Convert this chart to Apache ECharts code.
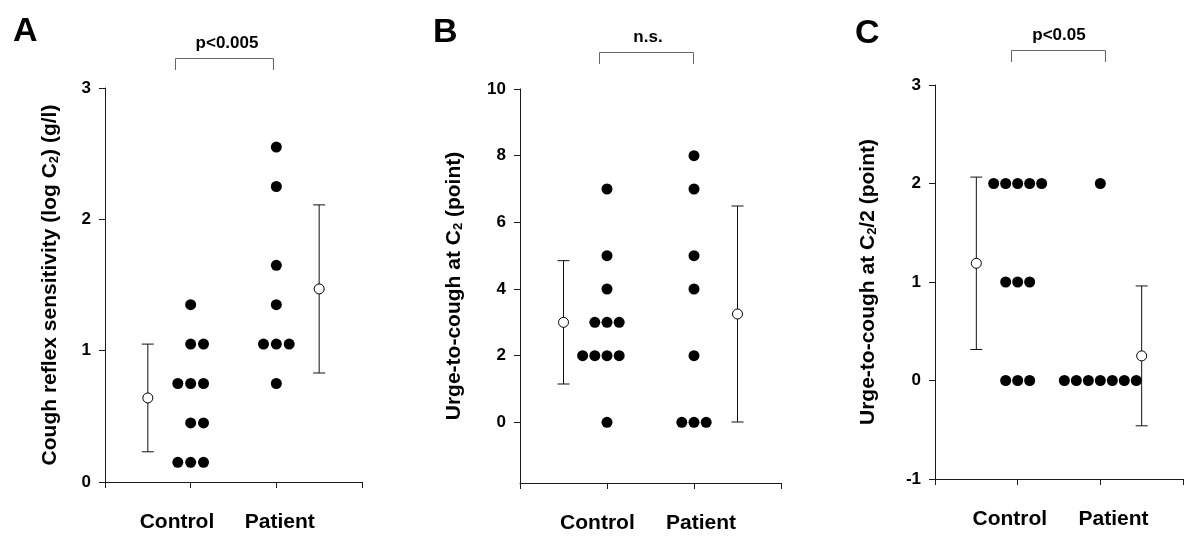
<!DOCTYPE html>
<html>
<head>
<meta charset="utf-8">
<script src="https://cdn.jsdelivr.net/npm/echarts@6/dist/echarts.min.js"></script>
<style>
html,body{margin:0;padding:0;background:#fff;}
#chart{width:1200px;height:550px;}
</style>
</head>
<body>
<div id="chart"></div>
<script>
// ---- data ----
const categories = ['Control', 'Patient'];
const panelLetters = ['A', 'B', 'C'];
const pLabels = ['p<0.005', 'n.s.', 'p<0.05'];

// [column slot, value]
const aControl = [[0,1.35],[0,1.05],[1,1.05],[-1,0.75],[0,0.75],[1,0.75],[0,0.45],[1,0.45],[-1,0.15],[0,0.15],[1,0.15]];
const aPatient = [[0,2.55],[0,2.25],[0,1.65],[0,1.35],[-1,1.05],[0,1.05],[1,1.05],[0,0.75]];
const aMean = [0.64, 1.47];
const aSD = [0.41, 0.64];

const bControl = [[0,7],[0,5],[0,4],[-1,3],[0,3],[1,3],[-2,2],[-1,2],[0,2],[1,2],[0,0]];
const bPatient = [[0,8],[0,7],[0,5],[0,4],[0,2],[-1,0],[0,0],[1,0]];
const bMean = [3.0, 3.25];
const bSD = [1.85, 3.24];

const cControl = [[-2,2],[-1,2],[0,2],[1,2],[2,2],[-1,1],[0,1],[1,1],[-1,0],[0,0],[1,0]];
const cPatient = [[0,2],[-3,0],[-2,0],[-1,0],[0,0],[1,0],[2,0],[3,0]];
const cMean = [1.19, 0.25];
const cSD = [0.875, 0.71];

const aYTicks = [0, 1, 2, 3];
const bYTicks = [0, 2, 4, 6, 8, 10];
const cYTicks = [-1, 0, 1, 2, 3];

// ---- layout ----
const FONT = '"Liberation Sans", Arial, Helvetica, sans-serif';
const AXIS_COLOR = '#1a1a1a';
const panels = [
  { grid: {left: 105, top: 88, width: 257, height: 394}, yMin: 0, yMax: 3, yTicks: aYTicks,
    control: aControl, patient: aPatient, mean: aMean, sd: aSD, step: 0.15,
    labelPos: [0.84, 2.04], nameGap: 44,
    name: 'Cough reflex sensitivity (log C{sub|2}) (g/l)' },
  { grid: {left: 520, top: 89, width: 261, height: 394}, yMin: -1.82, yMax: 10, yTicks: bYTicks,
    control: bControl, patient: bPatient, mean: bMean, sd: bSD, step: 0.14,
    labelPos: [0.89, 2.08], nameGap: 55,
    name: 'Urge-to-cough at C{sub|2} (point)' },
  { grid: {left: 935, top: 85, width: 248, height: 394}, yMin: -1, yMax: 3, yTicks: cYTicks,
    control: cControl, patient: cPatient, mean: cMean, sd: cSD, step: 0.145,
    labelPos: [0.905, 2.16], nameGap: 56,
    name: 'Urge-to-cough at C{sub|2}/2 (point)' }
];

const grids = [], xAxes = [], yAxes = [], series = [];
panels.forEach((p, i) => {
  grids.push(p.grid);
  xAxes.push({
    type: 'value', gridIndex: i, min: 0, max: 3, interval: 1,
    axisLine: {show: true, onZero: false, lineStyle: {color: AXIS_COLOR, width: 1}},
    axisTick: {show: true, length: 6, customValues: [0, 1, 2, 3], lineStyle: {color: AXIS_COLOR}},
    splitLine: {show: false},
    axisLabel: {
      customValues: p.labelPos, margin: 30,
      fontFamily: FONT, fontWeight: 'bold', fontSize: 21, color: '#000',
      formatter: v => (v < 1.5 ? categories[0] : categories[1])
    }
  });
  yAxes.push({
    type: 'value', gridIndex: i, min: p.yMin, max: p.yMax,
    axisLine: {show: true, onZero: false, lineStyle: {color: AXIS_COLOR, width: 1}},
    axisTick: {show: true, length: 6, customValues: p.yTicks, lineStyle: {color: AXIS_COLOR}},
    splitLine: {show: false},
    axisLabel: {customValues: p.yTicks, margin: 14, fontFamily: FONT, fontWeight: 'bold', fontSize: 17, color: '#000'},
    name: p.name, nameLocation: 'middle', nameRotate: 90, nameGap: p.nameGap,
    nameTextStyle: {
      fontFamily: FONT, fontWeight: 'bold', fontSize: 21, color: '#000',
      rich: {sub: {fontFamily: FONT, fontWeight: 'bold', fontSize: 13, color: '#000', padding: [9, 0, 0, 0]}}
    }
  });
  const toPts = (arr, center) => arr.map(d => [center + d[0] * p.step, d[1]]);
  series.push({
    type: 'scatter', xAxisIndex: i, yAxisIndex: i, symbol: 'circle', symbolSize: 11,
    itemStyle: {color: '#000', opacity: 1}, silent: true,
    data: toPts(p.control, 1).concat(toPts(p.patient, 2))
  });
  const ms = [[0.5, p.mean[0], p.sd[0]], [2.5, p.mean[1], p.sd[1]]];
  series.push({
    type: 'custom', xAxisIndex: i, yAxisIndex: i, silent: true, z: 3,
    data: ms,
    renderItem: (params, api) => {
      const x = api.value(0), m = api.value(1), s = api.value(2);
      const t = api.coord([x, m + s]), b = api.coord([x, m - s]);
      const st = {stroke: '#111', lineWidth: 1};
      const w = 6;
      return {type: 'group', children: [
        {type: 'line', shape: {x1: t[0], y1: t[1], x2: b[0], y2: b[1]}, style: st},
        {type: 'line', shape: {x1: t[0] - w, y1: t[1], x2: t[0] + w, y2: t[1]}, style: st},
        {type: 'line', shape: {x1: b[0] - w, y1: b[1], x2: b[0] + w, y2: b[1]}, style: st}
      ]};
    }
  });
  series.push({
    type: 'scatter', xAxisIndex: i, yAxisIndex: i, symbol: 'circle', symbolSize: 10, z: 4,
    itemStyle: {color: '#fff', borderColor: '#000', borderWidth: 1, opacity: 1}, silent: true,
    data: ms.map(d => [d[0], d[1]])
  });
});

// annotations: panel letters, brackets, significance labels
const letterPos = [[13, 15], [433, 16], [855, 17]];
const brackets = [
  {x1: 175, x2: 273, y: 58, h: 12, tx: 227, ty: 43},
  {x1: 599, x2: 693, y: 52, h: 12, tx: 648, ty: 37},
  {x1: 1011, x2: 1105, y: 50, h: 12, tx: 1059, ty: 35}
];
const graphic = [];
panelLetters.forEach((L, i) => {
  graphic.push({type: 'text', left: letterPos[i][0], top: letterPos[i][1],
    style: {text: L, font: 'bold 34px ' + FONT, fill: '#000'}});
  const b = brackets[i];
  graphic.push({type: 'polyline', silent: true,
    shape: {points: [[b.x1 + 0.5, b.y + b.h], [b.x1 + 0.5, b.y + 0.5], [b.x2 + 0.5, b.y + 0.5], [b.x2 + 0.5, b.y + b.h]]},
    style: {stroke: '#666', lineWidth: 1, fill: null}});
  graphic.push({type: 'text', x: b.tx, y: b.ty,
    style: {text: pLabels[i], font: 'bold 17px ' + FONT, fill: '#000', align: 'center', verticalAlign: 'middle'}});
});

const chart = echarts.init(document.getElementById('chart'), null, {renderer: 'canvas'});
chart.setOption({
  animation: false,
  backgroundColor: '#fff',
  grid: grids, xAxis: xAxes, yAxis: yAxes, series: series, graphic: graphic
});
</script>
</body>
</html>
